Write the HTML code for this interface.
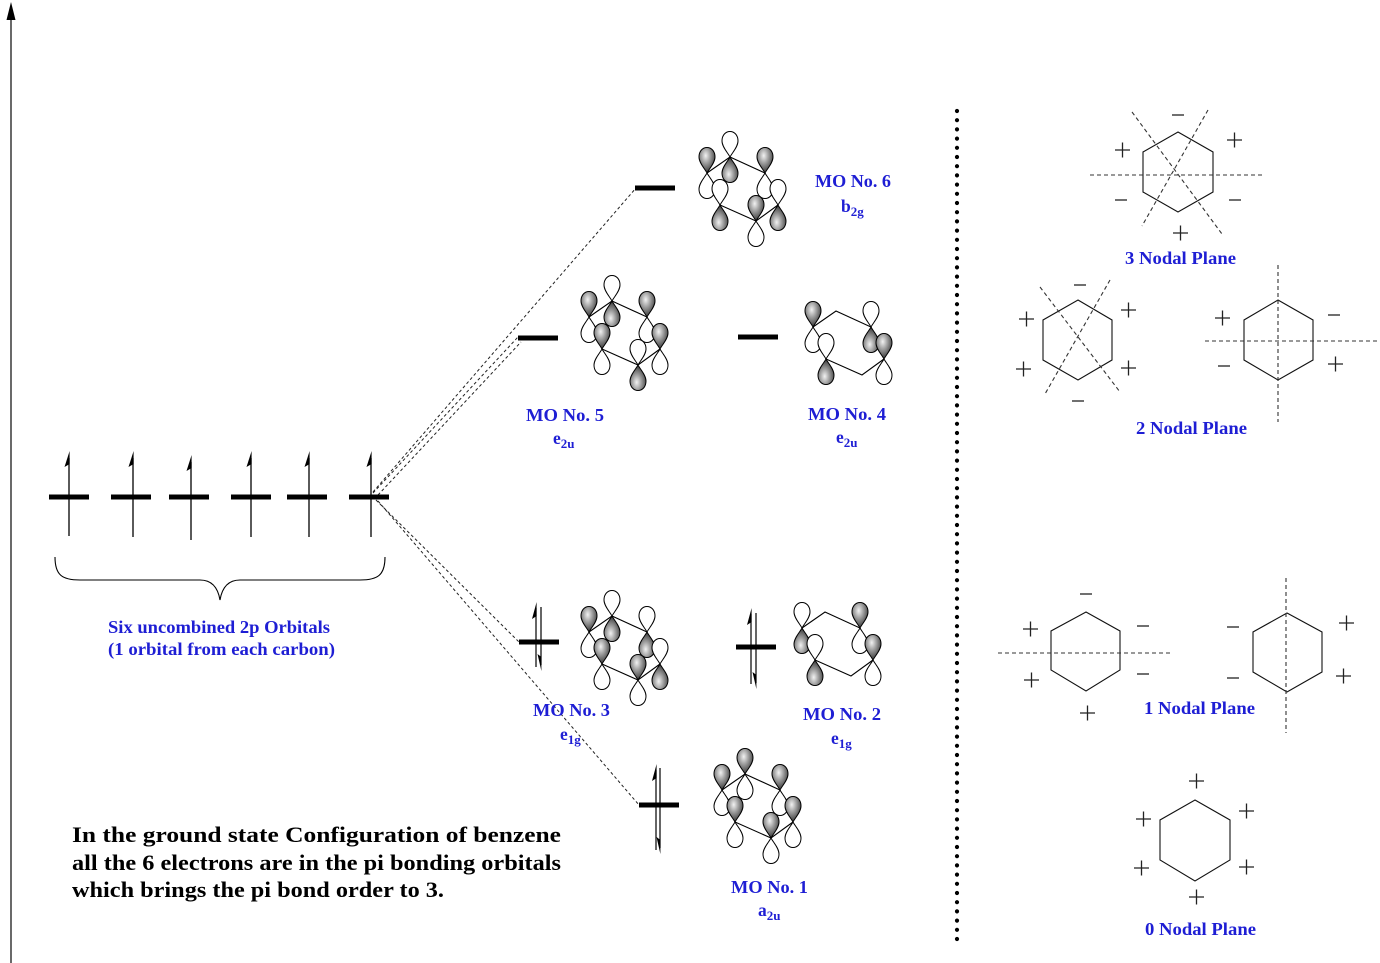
<!DOCTYPE html>
<html>
<head>
<meta charset="utf-8">
<style>
html,body{margin:0;padding:0;background:#fff;}
svg{display:block;}
.bl{font-family:"Liberation Serif",serif;font-weight:bold;fill:#1e1ed4;}
.bk{font-family:"Liberation Serif",serif;font-weight:bold;fill:#000;}
</style>
</head>
<body>
<svg width="1380" height="963" viewBox="0 0 1380 963" xmlns="http://www.w3.org/2000/svg">
<defs>
  <radialGradient id="g" cx="0.42" cy="0.32" r="0.75" fx="0.42" fy="0.32">
    <stop offset="0" stop-color="#f2f2f2"/>
    <stop offset="0.35" stop-color="#a8a8a8"/>
    <stop offset="1" stop-color="#222"/>
  </radialGradient>
  <path id="lobe" d="M0,0 C-2,-4 -8,-10 -8,-16 C-8,-22 -4.3,-25.5 0,-25.5 C4.3,-25.5 8,-22 8,-16 C8,-10 2,-4 0,0Z" stroke="#000" stroke-width="1"/>
  <g id="S">
    <use href="#lobe" fill="white" transform="scale(1,-1)"/>
    <use href="#lobe" fill="url(#g)"/>
  </g>
  <g id="W">
    <use href="#lobe" fill="white"/>
    <use href="#lobe" fill="url(#g)" transform="scale(1,-1)"/>
  </g>
  <polygon id="ring" points="0,0 23,-16 58,0 71,32 49,48 13,32" fill="none" stroke="#000" stroke-width="1.1"/>
</defs>

<!-- energy axis -->
<line x1="11" y1="16" x2="11" y2="963" stroke="#444" stroke-width="1.6"/>
<polygon points="11,2 6.5,20 15.5,20" fill="#000"/>

<!-- dotted divider -->
<line x1="957" y1="111" x2="957" y2="941" stroke="#000" stroke-width="4.2" stroke-linecap="round" stroke-dasharray="0 9.2"/>

<!-- dashed connectors -->
<g stroke="#222" stroke-width="1" stroke-dasharray="3 2.5" fill="none">
  <line x1="373" y1="492" x2="636" y2="188"/>
  <line x1="373" y1="493" x2="518" y2="337"/>
  <line x1="378" y1="495" x2="521" y2="342"/>
  <line x1="376" y1="500" x2="519" y2="642"/>
  <line x1="378" y1="501" x2="639" y2="805"/>
</g>

<!-- six atomic orbitals -->
<g fill="#000">
  <rect x="49" y="494.5" width="40" height="5"/>
  <rect x="111" y="494.5" width="40" height="5"/>
  <rect x="169" y="494.5" width="40" height="5"/>
  <rect x="231" y="494.5" width="40" height="5"/>
  <rect x="287" y="494.5" width="40" height="5"/>
  <rect x="349" y="494.5" width="40" height="5"/>
</g>
<g stroke="#000" stroke-width="1.3">
  <line x1="69" y1="458" x2="69" y2="536"/>
  <line x1="133" y1="458" x2="133" y2="537"/>
  <line x1="191" y1="462" x2="191" y2="540"/>
  <line x1="251" y1="458" x2="251" y2="537"/>
  <line x1="309" y1="458" x2="309" y2="537"/>
  <line x1="371" y1="458" x2="371" y2="537"/>
</g>
<g fill="#000">
  <polygon points="69.6,451 64.5,467 69.6,464"/>
  <polygon points="133.6,451 128.5,467 133.6,464"/>
  <polygon points="191.6,455 186.5,471 191.6,468"/>
  <polygon points="251.6,451 246.5,467 251.6,464"/>
  <polygon points="309.6,451 304.5,467 309.6,464"/>
  <polygon points="371.6,451 366.5,467 371.6,464"/>
</g>

<!-- brace -->
<path d="M55,557 C55,575 62,580 80,580 L200,580 C212,580 218,588 220,600 C222,588 228,580 240,580 L360,580 C378,580 385,575 385,557" fill="none" stroke="#000" stroke-width="1.1"/>

<text class="bl" x="108" y="633" font-size="17.5" textLength="222" lengthAdjust="spacingAndGlyphs">Six uncombined 2p Orbitals</text>
<text class="bl" x="108" y="655" font-size="17.5" textLength="227" lengthAdjust="spacingAndGlyphs">(1 orbital from each carbon)</text>

<!-- MO energy bars -->
<g fill="#000">
  <rect x="635" y="185.5" width="40" height="5"/>
  <rect x="518" y="335.5" width="40" height="5"/>
  <rect x="738" y="334.5" width="40" height="5"/>
  <rect x="519" y="639.5" width="40" height="5"/>
  <rect x="736" y="644.5" width="40" height="5"/>
  <rect x="639" y="802.5" width="40" height="5"/>
</g>

<!-- electron pairs -->
<g stroke="#000" stroke-width="1.2">
  <line x1="536" y1="608" x2="536" y2="667"/>
  <line x1="541" y1="607" x2="541" y2="665"/>
  <line x1="751" y1="614" x2="751" y2="684"/>
  <line x1="756" y1="613" x2="756" y2="683"/>
  <line x1="656" y1="770" x2="656" y2="850"/>
  <line x1="660" y1="768" x2="660" y2="848"/>
</g>
<g fill="#000">
  <polygon points="536.6,602 532,619 536.6,616"/>
  <polygon points="541.4,671 537.5,654 541.4,657"/>
  <polygon points="751.6,608 747,625 751.6,622"/>
  <polygon points="756.4,689 752.5,672 756.4,675"/>
  <polygon points="656.6,764 652,781 656.6,778"/>
  <polygon points="660.4,854 656.5,837 660.4,840"/>
</g>

<!-- MO 6 -->
<g transform="translate(707,173)">
  <use href="#ring"/>
  <use href="#W" x="23" y="-16"/>
  <use href="#S" x="0" y="0"/>
  <use href="#S" x="58" y="0"/>
  <use href="#S" x="49" y="48"/>
  <use href="#W" x="13" y="32"/>
  <use href="#W" x="71" y="32"/>
</g>
<!-- MO 5 -->
<g transform="translate(589,317)">
  <use href="#ring"/>
  <use href="#W" x="23" y="-16"/>
  <use href="#S" x="0" y="0"/>
  <use href="#S" x="58" y="0"/>
  <use href="#W" x="49" y="48"/>
  <use href="#S" x="13" y="32"/>
  <use href="#S" x="71" y="32"/>
</g>
<!-- MO 4 -->
<g transform="translate(813,327)">
  <use href="#ring"/>
  <use href="#S" x="0" y="0"/>
  <use href="#W" x="58" y="0"/>
  <use href="#W" x="13" y="32"/>
  <use href="#S" x="71" y="32"/>
</g>
<!-- MO 3 -->
<g transform="translate(589,632)">
  <use href="#ring"/>
  <use href="#W" x="23" y="-16"/>
  <use href="#S" x="0" y="0"/>
  <use href="#W" x="58" y="0"/>
  <use href="#S" x="49" y="48"/>
  <use href="#S" x="13" y="32"/>
  <use href="#W" x="71" y="32"/>
</g>
<!-- MO 2 -->
<g transform="translate(802,628)">
  <use href="#ring"/>
  <use href="#W" x="0" y="0"/>
  <use href="#S" x="58" y="0"/>
  <use href="#W" x="13" y="32"/>
  <use href="#S" x="71" y="32"/>
</g>
<!-- MO 1 -->
<g transform="translate(722,790)">
  <use href="#ring"/>
  <use href="#S" x="23" y="-16"/>
  <use href="#S" x="0" y="0"/>
  <use href="#S" x="58" y="0"/>
  <use href="#S" x="49" y="48"/>
  <use href="#S" x="13" y="32"/>
  <use href="#S" x="71" y="32"/>
</g>

<!-- MO labels -->
<g class="bl" font-size="17.5">
  <text x="815" y="187" textLength="76" lengthAdjust="spacingAndGlyphs">MO No. 6</text>
  <text x="841" y="212">b<tspan font-size="13" dy="4">2g</tspan></text>
  <text x="526" y="421" textLength="78" lengthAdjust="spacingAndGlyphs">MO No. 5</text>
  <text x="553" y="444">e<tspan font-size="13" dy="4">2u</tspan></text>
  <text x="808" y="420" textLength="78" lengthAdjust="spacingAndGlyphs">MO No. 4</text>
  <text x="836" y="443">e<tspan font-size="13" dy="4">2u</tspan></text>
  <text x="533" y="716" textLength="77" lengthAdjust="spacingAndGlyphs">MO No. 3</text>
  <text x="560" y="740">e<tspan font-size="13" dy="4">1g</tspan></text>
  <text x="803" y="720" textLength="78" lengthAdjust="spacingAndGlyphs">MO No. 2</text>
  <text x="831" y="744">e<tspan font-size="13" dy="4">1g</tspan></text>
  <text x="731" y="893" textLength="77" lengthAdjust="spacingAndGlyphs">MO No. 1</text>
  <text x="758" y="916">a<tspan font-size="13" dy="4">2u</tspan></text>
</g>

<!-- bottom explanation -->
<g class="bk" font-size="22">
  <text x="72" y="842" textLength="489" lengthAdjust="spacingAndGlyphs">In the ground state Configuration of benzene</text>
  <text x="72" y="870" textLength="489" lengthAdjust="spacingAndGlyphs">all the 6 electrons are in the pi bonding orbitals</text>
  <text x="72" y="897" textLength="372" lengthAdjust="spacingAndGlyphs">which brings the pi bond order to 3.</text>
</g>

<!-- Nodal plane diagrams -->
<g fill="none" stroke="#111" stroke-width="1.1">
  <polygon points="1178,132 1213,152 1213,192 1178,212 1143,192 1143,152"/>
  <polygon points="1078,300 1112,320 1112,360 1078,380 1043,360 1043,320"/>
  <polygon points="1278,300 1313,320 1313,360 1278,380 1244,360 1244,320"/>
  <polygon points="1086,612 1120,631 1120,670 1086,691 1051,670 1051,631"/>
  <polygon points="1287,613 1322,632 1322,672 1287,692 1253,672 1253,632"/>
  <polygon points="1195,800 1230,820 1230,860 1195,881 1160,860 1160,820"/>
</g>
<g stroke="#333" stroke-width="1.1" stroke-dasharray="4 3" fill="none">
  <line x1="1090" y1="175" x2="1262" y2="175"/>
  <line x1="1132" y1="112" x2="1222" y2="234"/>
  <line x1="1208" y1="110" x2="1142" y2="226"/>
  <line x1="1040" y1="287" x2="1120" y2="392"/>
  <line x1="1110" y1="280" x2="1045" y2="394"/>
  <line x1="1278" y1="265" x2="1278" y2="422"/>
  <line x1="1205" y1="341" x2="1377" y2="341"/>
  <line x1="998" y1="653" x2="1170" y2="653"/>
  <line x1="1286" y1="578" x2="1286" y2="733"/>
</g>

<!-- signs -->
<g stroke="#222" stroke-width="1.3" fill="none">
  <path d="M1172,115h12"/>
  <path d="M1227,140h15M1234.5,132.5v15"/>
  <path d="M1115,150h15M1122.5,142.5v15"/>
  <path d="M1115,200h12"/>
  <path d="M1229,200h12"/>
  <path d="M1173,233h15M1180.5,225.5v15"/>
  <path d="M1074,285h12"/>
  <path d="M1121,310h15M1128.5,302.5v15"/>
  <path d="M1019,319h15M1026.5,311.5v15"/>
  <path d="M1016,369h15M1023.5,361.5v15"/>
  <path d="M1121,368h15M1128.5,360.5v15"/>
  <path d="M1072,401h12"/>
  <path d="M1215,318h15M1222.5,310.5v15"/>
  <path d="M1328,315h12"/>
  <path d="M1218,366h12"/>
  <path d="M1328,364h15M1335.5,356.5v15"/>
  <path d="M1080,594h12"/>
  <path d="M1023,629h15M1030.5,621.5v15"/>
  <path d="M1137,626h12"/>
  <path d="M1024,680h15M1031.5,672.5v15"/>
  <path d="M1137,674h12"/>
  <path d="M1080,713h15M1087.5,705.5v15"/>
  <path d="M1227,627h12"/>
  <path d="M1339,623h15M1346.5,615.5v15"/>
  <path d="M1227,678h12"/>
  <path d="M1336,676h15M1343.5,668.5v15"/>
  <path d="M1189,781h15M1196.5,773.5v15"/>
  <path d="M1239,811h15M1246.5,803.5v15"/>
  <path d="M1136,819h15M1143.5,811.5v15"/>
  <path d="M1134,868h15M1141.5,860.5v15"/>
  <path d="M1239,867h15M1246.5,859.5v15"/>
  <path d="M1189,897h15M1196.5,889.5v15"/>
</g>

<g class="bl" font-size="17.5">
  <text x="1125" y="264" textLength="111" lengthAdjust="spacingAndGlyphs">3 Nodal Plane</text>
  <text x="1136" y="434" textLength="111" lengthAdjust="spacingAndGlyphs">2 Nodal Plane</text>
  <text x="1144" y="714" textLength="111" lengthAdjust="spacingAndGlyphs">1 Nodal Plane</text>
  <text x="1145" y="935" textLength="111" lengthAdjust="spacingAndGlyphs">0 Nodal Plane</text>
</g>
</svg>
</body>
</html>
